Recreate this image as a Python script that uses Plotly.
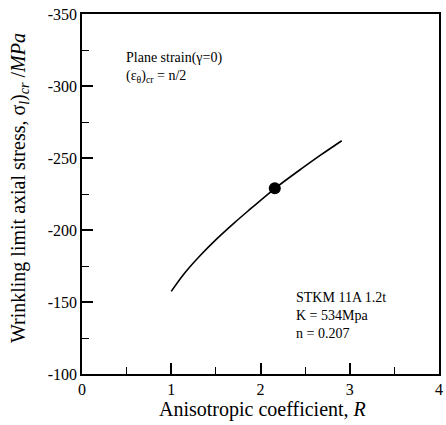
import plotly.graph_objects as go

# Data
R_curve = [1.0, 1.14, 1.33, 1.51, 1.70, 1.86, 2.16, 2.46, 2.68, 2.91]
sigma_curve = [-157.4, -169.3, -182.6, -193.8, -204.6, -213.2, -228.8, -242.6, -252.3, -262.0]
R_point = [2.16]
sigma_point = [-229.0]
x_ticks = [0, 1, 2, 3, 4]
x_ticktext = ["0", "1", "2", "3", "4"]
y_ticks = [-350, -300, -250, -200, -150, -100]
y_ticktext = ["-350", "-300", "-250", "-200", "-150", "-100"]

FONT = "Liberation Serif"

fig = go.Figure()
fig.add_trace(go.Scatter(x=R_curve, y=sigma_curve, mode="lines",
                         line=dict(color="black", width=1.6, shape="spline", smoothing=0.8),
                         showlegend=False, hoverinfo="skip"))
fig.add_trace(go.Scatter(x=R_point, y=sigma_point, mode="markers",
                         marker=dict(color="black", size=12),
                         showlegend=False))

fig.update_layout(
    width=446, height=425,
    margin=dict(l=82, r=3, t=14, b=51),
    paper_bgcolor="white", plot_bgcolor="white",
    font=dict(family=FONT, color="black", size=15),
    xaxis=dict(range=[0, 4], tickvals=x_ticks, ticktext=x_ticktext, ticks="inside", ticklen=11,
               tickwidth=1.5, tickcolor="black", showline=True, linecolor="black", linewidth=1.6,
               mirror=True, showgrid=False, zeroline=False,
               tickfont=dict(family=FONT, size=16),
               minor=dict(dtick=0.5, ticks="inside", ticklen=7, tickwidth=1.2, tickcolor="black")),
    yaxis=dict(range=[-100, -350], tickvals=y_ticks, ticktext=y_ticktext, ticks="inside", ticklen=11,
               tickwidth=1.5, tickcolor="black", showline=True, linecolor="black", linewidth=1.6,
               mirror=True, showgrid=False, zeroline=False,
               tickfont=dict(family=FONT, size=16),
               minor=dict(dtick=25, ticks="inside", ticklen=7, tickwidth=1.2, tickcolor="black")),
)

fig.add_annotation(text="Anisotropic coefficient, <i>R</i>", xref="paper", yref="paper",
                   x=0.507, y=-0.06, xanchor="center", yanchor="top", showarrow=False,
                   font=dict(family=FONT, size=20))
fig.add_annotation(text="Wrinkling limit axial stress, σ<sub><i>l</i></sub>)<sub><i>cr</i></sub> /<i>MPa</i>",
                   xref="paper", yref="paper", x=-0.177, y=0.516, xanchor="center", yanchor="middle",
                   textangle=-90, showarrow=False, font=dict(family=FONT, size=20))

fig.add_annotation(text="Plane strain(γ=0)<br>(ε<sub>θ</sub>)<sub>cr</sub> = n/2", xref="paper", yref="paper",
                   x=0.119, y=0.905, xanchor="left", yanchor="top", align="left", showarrow=False,
                   font=dict(family=FONT, size=14))
fig.add_annotation(text="STKM 11A 1.2t<br>K = 534Mpa<br>n = 0.207", xref="paper", yref="paper",
                   x=0.593, y=0.24, xanchor="left", yanchor="top", align="left", showarrow=False,
                   font=dict(family=FONT, size=14))

fig.write_html("out.html",
               config={"displayModeBar": False},
               post_script="document.body.style.margin='0';document.body.style.padding='0';"
                           "document.body.style.overflow='hidden';")
